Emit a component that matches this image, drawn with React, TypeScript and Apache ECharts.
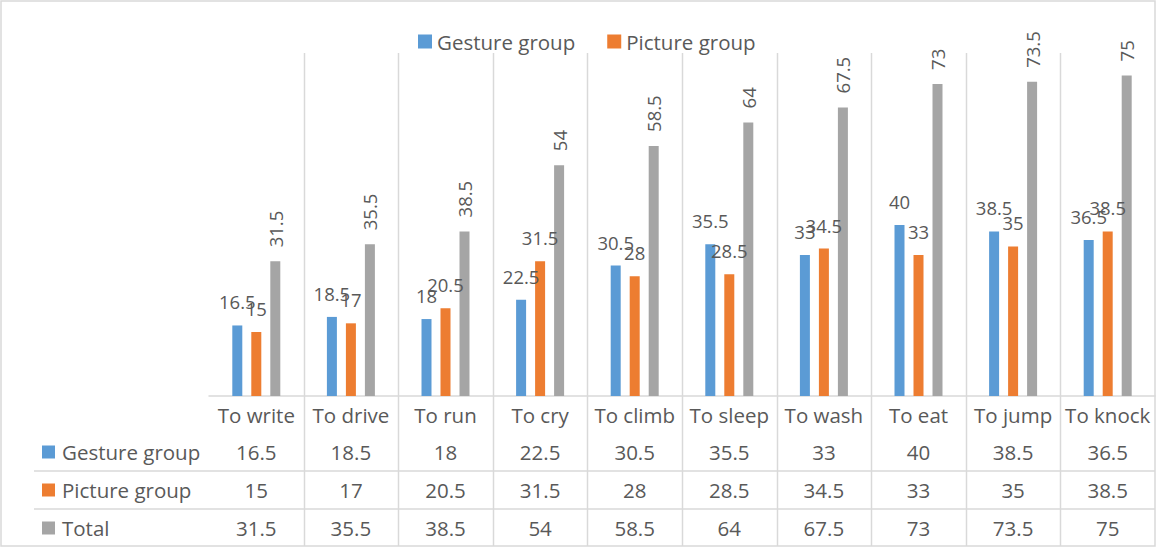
import React, { useEffect, useRef } from "react";
import * as echarts from "echarts";

const categories = ["To write", "To drive", "To run", "To cry", "To climb", "To sleep", "To wash", "To eat", "To jump", "To knock"];
const gestureGroup = [16.5, 18.5, 18, 22.5, 30.5, 35.5, 33, 40, 38.5, 36.5];
const pictureGroup = [15, 17, 20.5, 31.5, 28, 28.5, 34.5, 33, 35, 38.5];
const total = [31.5, 35.5, 38.5, 54, 58.5, 64, 67.5, 73, 73.5, 75];
const seriesNames = ["Gesture group", "Picture group", "Total"];
const seriesColors = ["#5B9BD5", "#ED7D31", "#A5A5A5"];

const FONT = "'Open Sans', sans-serif";
const TEXT = "#595959";
const LINE = "#d9d9d9";

export default function App() {
  const ref = useRef<HTMLDivElement>(null);
  useEffect(() => {
    document.body.style.margin = "0";
    if (!ref.current) return;
    const chart = echarts.init(ref.current, undefined, { renderer: "svg" });
    const values = [gestureGroup, pictureGroup, total];
    const gridTop = 54;
    const gridBottom = 152;
    chart.setOption({
      animation: false,
      textStyle: { fontFamily: FONT },
      legend: {
        data: [seriesNames[0], seriesNames[1]],
        left: 413,
        top: 26,
        icon: "rect",
        itemWidth: 14,
        itemHeight: 14,
        itemGap: 32,
        textStyle: { fontFamily: FONT, fontSize: 20.5, color: TEXT },
      },
      grid: { left: 209, right: 2, top: gridTop, bottom: gridBottom, containLabel: false },
      xAxis: {
        type: "category",
        data: categories,
        axisLine: { show: true, lineStyle: { color: LINE, width: 1.5 } },
        axisTick: { show: false },
        splitLine: { show: false },
        axisLabel: { fontFamily: FONT, fontSize: 20.5, color: TEXT, margin: 8, interval: 0 },
      },
      yAxis: { type: "value", min: 0, max: 80, show: false, splitLine: { show: false } },
      series: seriesNames.map((name, i) => ({
        name,
        type: "bar",
        data: values[i],
        barWidth: 10,
        barGap: "90%",
        itemStyle: { color: seriesColors[i] },
        label:
          i < 2
            ? { show: true, position: "top", distance: 14, fontFamily: FONT, fontSize: 18.5, color: TEXT }
            : {
                show: true,
                position: "top",
                distance: 14,
                rotate: 90,
                align: "left",
                verticalAlign: "middle",
                fontFamily: FONT,
                fontSize: 18.5,
                color: TEXT,
              },
      })),
    });

    const px = categories.map((c) => chart.convertToPixel({ xAxisIndex: 0 }, c) as number);
    const step = px[1] - px[0];
    const rowYs = [452, 490, 528];
    const graphics: any[] = [];
    graphics.push({
      type: "rect",
      shape: { x: 1, y: 1, width: 1154, height: 545 },
      style: { fill: "none", stroke: LINE, lineWidth: 1.5 },
      silent: true,
    });
    for (let i = 1; i < categories.length; i++) {
      const x = Math.round(px[i] - step / 2) + 0.5;
      graphics.push({
        type: "line",
        shape: { x1: x, y1: 53, x2: x, y2: 546 },
        style: { stroke: LINE, lineWidth: 1.5 },
        silent: true,
      });
    }
    [471, 509].forEach((y) => {
      graphics.push({
        type: "line",
        shape: { x1: 34, y1: y, x2: 1155, y2: y },
        style: { stroke: LINE, lineWidth: 1.5 },
        silent: true,
      });
    });
    seriesNames.forEach((name, r) => {
      const y = rowYs[r];
      graphics.push({
        type: "rect",
        shape: { x: 42, y: y - 6.5, width: 13, height: 13 },
        style: { fill: seriesColors[r] },
        silent: true,
      });
      graphics.push({
        type: "text",
        x: 62,
        y,
        style: { text: name, fontFamily: FONT, fontSize: 20.5, fill: TEXT, align: "left", verticalAlign: "middle" },
        silent: true,
      });
      values[r].forEach((v, i) => {
        graphics.push({
          type: "text",
          x: px[i],
          y,
          style: { text: String(v), fontFamily: FONT, fontSize: 20.5, fill: TEXT, align: "center", verticalAlign: "middle" },
          silent: true,
        });
      });
    });
    chart.setOption({ graphic: graphics });
    return () => chart.dispose();
  }, []);
  return <div ref={ref} style={{ width: 1157, height: 548 }} />;
}
